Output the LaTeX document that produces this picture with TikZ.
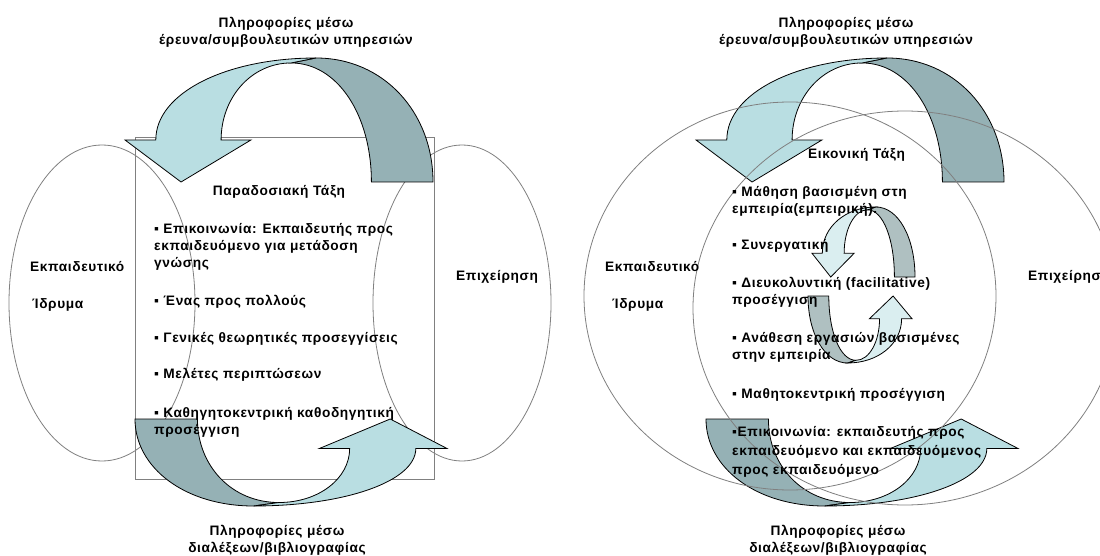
\documentclass[tikz,border=0pt]{standalone}
\usepackage{fontspec}
\setmainfont{Liberation Sans}[LetterSpace=4.5]
\definecolor{lt}{HTML}{B9DEE2}
\definecolor{dk}{HTML}{95B1B5}
\definecolor{ltb}{HTML}{DAEEF0}
\definecolor{dkb}{HTML}{AFC0C1}
\definecolor{edgegray}{HTML}{808080}
\tikzset{
  lbl/.style={font=\bfseries\fontsize{13.7}{17}\selectfont, inner sep=0pt, align=left},
  lblc/.style={lbl, align=center},
  outline/.style={draw=edgegray, line width=0.8pt},
  rib/.style={draw=black, line width=0.8pt, line join=miter},
}
\newcommand{\ribshape}[2]{%
  \filldraw[rib, fill=#2] (0.62,0) .. controls (0.84,0) and (1,0.44) .. (1,1) -- (0.80,1) .. controls (0.80,0.46) and (0.69,0.04) .. (0.539,0.04) -- cycle;
  \filldraw[rib, fill=#1] (0,0.661) -- (0.10,0.661) .. controls (0.10,0.28) and (0.33,0) .. (0.62,0) -- (0.539,0.04) .. controls (0.41,0.04) and (0.312,0.32) .. (0.312,0.661) -- (0.409,0.661) -- (0.182,1) -- cycle;
}
\begin{document}
\begin{tikzpicture}[x=1pt,y=-1pt]
\clip (0,0) rectangle (1100,556);
\fill[white] (0,0) rectangle (1100,556);
% left panel outlines
\draw[outline] (102,303) ellipse [x radius=93, y radius=158];
\draw[outline] (462,303) ellipse [x radius=89, y radius=158];
\draw[outline] (135,137) rectangle (434,479);
% left panel arrows
\begin{scope}[shift={(125,58)}, xscale=308, yscale=124]\ribshape{lt}{dk}\end{scope}
\begin{scope}[shift={(447,506)}, xscale=-312, yscale=-87]\ribshape{lt}{dk}\end{scope}
% right panel arrows
\begin{scope}[shift={(696,58)}, xscale=308, yscale=124]\ribshape{lt}{dk}\end{scope}
\begin{scope}[shift={(1018,506)}, xscale=-312, yscale=-87]\ribshape{lt}{dk}\end{scope}
\begin{scope}[shift={(812,207)}, xscale=103, yscale=70]\ribshape{ltb}{dkb}\end{scope}
\begin{scope}[shift={(912,363)}, xscale=-104, yscale=-67]\ribshape{ltb}{dkb}\end{scope}
% right panel circles
\draw[outline] (790,296) ellipse [x radius=206, y radius=194];
\draw[outline] (905,308) ellipse [x radius=212, y radius=197];
% left panel texts
\node[lblc, anchor=north] (lt1) at (286,15) {\strut Πληροφορίες μέσω\\έρευνα/συμβουλευτικών υπηρεσιών};
\node[lblc, anchor=north] (lb1) at (277,523) {\strut Πληροφορίες μέσω\\διαλέξεων/βιβλιογραφίας};
\node[lbl, anchor=base] (ltitle) at (279,196) {Παραδοσιακή Τάξη};
\node[lbl, anchor=north west] (lp1) at (154,221) {\strut ▪ Επικοινωνία: Εκπαιδευτής προς\\εκπαιδευόμενο για μετάδοση\\γνώσης};
\node[lbl, anchor=base west] (lp2) at (154,305) {▪ Ένας προς πολλούς};
\node[lbl, anchor=base west] (lp3) at (154,342) {▪ Γενικές θεωρητικές προσεγγίσεις};
\node[lbl, anchor=base west] (lp4) at (154,378) {▪ Μελέτες περιπτώσεων};
\node[lbl, anchor=north west] (lp5) at (154,405) {\strut ▪ Καθηγητοκεντρική καθοδηγητική\\προσέγγιση};
\node[lbl, anchor=base west] (ledu1) at (30,271) {Εκπαιδευτικό};
\node[lbl, anchor=base west] (ledu2) at (32,308) {Ίδρυμα};
\node[lbl, anchor=base west] (lbus) at (456,280) {Επιχείρηση};
% right panel texts
\node[lblc, anchor=north] (rt1) at (846,15) {\strut Πληροφορίες μέσω\\έρευνα/συμβουλευτικών υπηρεσιών};
\node[lblc, anchor=north] (rb1) at (838,523) {\strut Πληροφορίες μέσω\\διαλέξεων/βιβλιογραφίας};
\node[lbl, anchor=base west] (rtitle) at (808,159) {Εικονική Τάξη};
\node[lbl, anchor=north west] (rp1) at (732,184) {\strut ▪ Μάθηση βασισμένη στη\\εμπειρία(εμπειρική).};
\node[lbl, anchor=base west] (rp2) at (732,249) {▪ Συνεργατική};
\node[lbl, anchor=north west] (rp3) at (732,275) {\strut ▪ Διευκολυντική (facilitative)\\προσέγγιση};
\node[lbl, anchor=north west] (rp4) at (732,330) {\strut ▪ Ανάθεση εργασιών βασισμένες\\στην εμπειρία};
\node[lbl, anchor=base west] (rp5) at (732,398) {▪ Μαθητοκεντρική προσέγγιση};
\node[lbl, anchor=north west, font=\bfseries\fontsize{13.7}{19}\selectfont] (rp6) at (732,423) {\strut ▪Επικοινωνία: εκπαιδευτής προς\\εκπαιδευόμενο και εκπαιδευόμενος\\προς εκπαιδευόμενο};
\node[lbl, anchor=base west] (redu1) at (605,271) {Εκπαιδευτικό};
\node[lbl, anchor=base west] (redu2) at (612,308) {Ίδρυμα};
\node[lbl, anchor=base west] (rbus) at (1028,280) {Επιχείρηση};
\end{tikzpicture}
\end{document}
